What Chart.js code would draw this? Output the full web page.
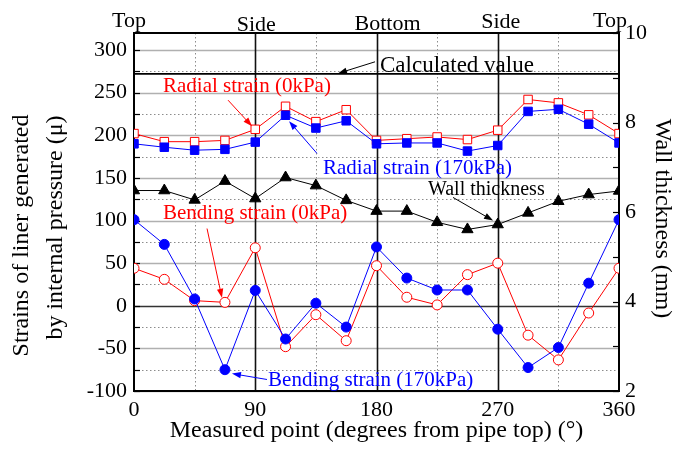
<!DOCTYPE html>
<html>
<head>
<meta charset="utf-8">
<script src="https://cdn.jsdelivr.net/npm/chart.js@4.4.0/dist/chart.umd.min.js"></script>
<style>
  html, body { margin: 0; padding: 0; background: #fff; }
  #wrap { width: 673px; height: 454px; }
</style>
</head>
<body>
<div id="wrap"><canvas id="chart" width="673" height="454"></canvas></div>
<script>
// Measuring positions around the pipe (degrees from the pipe top)
const angles = [0, 22.5, 45, 67.5, 90, 112.5, 135, 157.5, 180, 202.5, 225, 247.5, 270, 292.5, 315, 337.5, 360];

// Strains of the liner (μ)
const radial0    = [202, 192.5, 192.5, 194, 207, 234, 216, 230, 194, 196, 198, 195, 206, 242, 238, 224, 202];
const radial170  = [190, 186, 182.5, 183.5, 192, 223.5, 208.5, 217, 190, 191, 191, 181.5, 188, 228, 230.5, 213, 191];
const bending0   = [44, 31, 6, 4, 68, -48, -10.5, -41, 47, 10, 1, 36.5, 50, -34.5, -63.5, -8.5, 44];
const bending170 = [101, 72, 8, -75, 18, -39, 3, -25, 69, 32.5, 18.5, 18.5, -27.5, -72.5, -49, 26.5, 101];

// Wall thickness of the liner (mm)
const wallThickness = [6.48, 6.48, 6.27, 6.69, 6.30, 6.77, 6.59, 6.26, 6.02, 6.02, 5.77, 5.61, 5.72, 5.98, 6.24, 6.39, 6.47];

// Calculated radial strain (μ)
const calculatedValue = 272;

// Named positions on the pipe circumference
const positionAngles = [0, 90, 180, 270, 360];
const positionNames = ['Top', 'Side', 'Bottom', 'Side', 'Top'];

const SERIF = "'Liberation Serif', 'Times New Roman', serif";
const RED = '#ff0000';
const BLUE = '#0000ff';

const toPoints = vals => angles.map((a, i) => ({ x: a, y: vals[i] }));

// Callout labels with leader arrows, placed in data coordinates (x: degrees, y: left axis)
const callouts = [
  { text: 'Calculated value',        color: '#000', size: 23, at: [182.6, 274.5], from: [178.9, 286.2], to: [151.4, 272.6] },
  { text: 'Radial strain (0kPa)',    color: RED,    size: 21, at: [21.5, 251],    from: [69.8, 241.2],  to: [87.6, 210.6] },
  { text: 'Radial strain (170kPa)',  color: BLUE,   size: 21, at: [140.3, 154],   from: [135.8, 178.8], to: [115.1, 216.5] },
  { text: 'Wall thickness',          color: '#000', size: 20, at: [218.2, 129.4], from: [236.8, 127.1], to: [266.5, 100] },
  { text: 'Bending strain (0kPa)',   color: RED,    size: 21, at: [21.5, 102],    from: [54.2, 90.6],   to: [65.3, 9.4] },
  { text: 'Bending strain (170kPa)', color: BLUE,   size: 21, at: [99.5, -94],    from: [98.7, -86.5],  to: [72.7, -79.6] }
];

// Grid lines, frame and inward tick marks
const framePlugin = {
  id: 'framePlugin',
  beforeDatasetsDraw(chart) {
    const { ctx, chartArea: a, scales: { x, y, y2 } } = chart;
    ctx.save();
    const hLine = (v, color, w, dash) => {
      const py = Math.round(y.getPixelForValue(v)) + 0.5;
      ctx.beginPath(); ctx.setLineDash(dash); ctx.strokeStyle = color; ctx.lineWidth = w;
      ctx.moveTo(a.left, py); ctx.lineTo(a.right, py); ctx.stroke();
    };
    const vLine = (v, color, w, dash) => {
      const px = Math.round(x.getPixelForValue(v)) + 0.5;
      ctx.beginPath(); ctx.setLineDash(dash); ctx.strokeStyle = color; ctx.lineWidth = w;
      ctx.moveTo(px, a.top); ctx.lineTo(px, a.bottom); ctx.stroke();
    };
    // dotted minor grid
    y.ticks.forEach(t => { if (t.value % 50 !== 0) hLine(t.value, '#8c8c8c', 1, [1.5, 2.5]); });
    x.ticks.forEach(t => { if (t.value % 90 !== 0) vLine(t.value, '#8c8c8c', 1, [1.5, 2.5]); });
    // solid grey major grid
    y.ticks.forEach(t => { if (t.value % 50 === 0 && t.value !== 0) hLine(t.value, '#b0b0b0', 1.6, []); });
    // zero line and the quarter-circle verticals
    hLine(0, '#333', 1.6, []);
    x.ticks.forEach(t => { if (t.value % 90 === 0 && t.value > 0 && t.value < 360) vLine(t.value, '#111', 1.6, []); });

    // inward ticks
    ctx.setLineDash([]);
    ctx.strokeStyle = '#000';
    ctx.lineWidth = 1.2;
    y.ticks.forEach(t => {
      const py = Math.round(y.getPixelForValue(t.value)) + 0.5;
      ctx.beginPath(); ctx.moveTo(a.left, py); ctx.lineTo(a.left + 6, py); ctx.stroke();
    });
    y2.ticks.forEach(t => {
      const py = Math.round(y2.getPixelForValue(t.value)) + 0.5;
      ctx.beginPath(); ctx.moveTo(a.right, py); ctx.lineTo(a.right - 6, py); ctx.stroke();
    });

    // frame
    ctx.lineWidth = 2;
    ctx.strokeStyle = '#000';
    ctx.strokeRect(a.left, a.top, a.right - a.left, a.bottom - a.top);
    ctx.restore();
  }
};

// Callout texts with arrows
const calloutPlugin = {
  id: 'calloutPlugin',
  afterDatasetsDraw(chart) {
    const { ctx, scales: { x, y } } = chart;
    ctx.save();
    callouts.forEach(c => {
      const tx = x.getPixelForValue(c.at[0]), ty = y.getPixelForValue(c.at[1]);
      ctx.font = c.size + 'px ' + SERIF;
      ctx.fillStyle = c.color;
      ctx.textAlign = 'left';
      ctx.textBaseline = 'alphabetic';
      ctx.fillText(c.text, tx, ty);

      const x0 = x.getPixelForValue(c.from[0]), y0 = y.getPixelForValue(c.from[1]);
      const x1 = x.getPixelForValue(c.to[0]), y1 = y.getPixelForValue(c.to[1]);
      const ang = Math.atan2(y1 - y0, x1 - x0);
      const len = 9, half = 3.2;
      ctx.strokeStyle = c.color;
      ctx.lineWidth = 1;
      ctx.beginPath();
      ctx.moveTo(x0, y0);
      ctx.lineTo(x1 - Math.cos(ang) * len * 0.8, y1 - Math.sin(ang) * len * 0.8);
      ctx.stroke();
      ctx.beginPath();
      ctx.moveTo(x1, y1);
      ctx.lineTo(x1 - Math.cos(ang) * len - Math.sin(ang) * half, y1 - Math.sin(ang) * len + Math.cos(ang) * half);
      ctx.lineTo(x1 - Math.cos(ang) * len + Math.sin(ang) * half, y1 - Math.sin(ang) * len - Math.cos(ang) * half);
      ctx.closePath();
      ctx.fill();
    });
    ctx.restore();
  }
};

// Axis titles and the position names above the plot
const titlePlugin = {
  id: 'titlePlugin',
  afterDraw(chart) {
    const { ctx, chartArea: a, scales: { x } } = chart;
    ctx.save();
    ctx.fillStyle = '#000';
    ctx.textBaseline = 'alphabetic';
    ctx.textAlign = 'center';

    // position names
    ctx.font = '22px ' + SERIF;
    const nudge = [-5, 1, 11, 3, -9];
    const lift = [2.5, -1.5, -0.5, 1, 2];
    positionAngles.forEach((deg, i) => {
      ctx.fillText(positionNames[i], x.getPixelForValue(deg) + nudge[i], a.top - 4 - lift[i]);
    });

    // x title
    ctx.font = '24px ' + SERIF;
    ctx.fillText('Measured point (degrees from pipe top) (°)', (a.left + a.right) / 2, 437);

    // left title (two lines)
    ctx.save();
    ctx.translate(28, 235.5);
    ctx.rotate(-Math.PI / 2);
    ctx.fillText('Strains of liner generated', 0, 0);
    ctx.restore();
    ctx.save();
    ctx.translate(61.5, 227.5);
    ctx.rotate(-Math.PI / 2);
    ctx.fillText('by internal pressure (μ)', 0, 0);
    ctx.restore();

    // right title
    ctx.save();
    ctx.translate(656, 218.5);
    ctx.rotate(Math.PI / 2);
    ctx.fillText('Wall thickness (mm)', 0, 0);
    ctx.restore();

    ctx.restore();
  }
};

Chart.defaults.font.family = SERIF;
Chart.defaults.color = '#000';

new Chart(document.getElementById('chart'), {
  type: 'line',
  data: {
    datasets: [
      {
        label: 'Wall thickness', yAxisID: 'y2', data: toPoints(wallThickness),
        borderColor: '#000', backgroundColor: '#000', borderWidth: 1,
        pointStyle: 'triangle', pointRadius: 6.5, pointBorderWidth: 1, order: 0
      },
      {
        label: 'Radial strain (170kPa)', data: toPoints(radial170),
        borderColor: BLUE, backgroundColor: BLUE, borderWidth: 1,
        pointStyle: 'rect', pointRadius: 6, pointBorderWidth: 1, order: 1
      },
      {
        label: 'Radial strain (0kPa)', data: toPoints(radial0),
        borderColor: RED, backgroundColor: '#fff', borderWidth: 1,
        pointStyle: 'rect', pointRadius: 6, pointBorderWidth: 1, order: 2
      },
      {
        label: 'Bending strain (170kPa)', data: toPoints(bending170),
        borderColor: BLUE, backgroundColor: BLUE, borderWidth: 1,
        pointStyle: 'circle', pointRadius: 5, pointBorderWidth: 1, order: 3
      },
      {
        label: 'Bending strain (0kPa)', data: toPoints(bending0),
        borderColor: RED, backgroundColor: '#fff', borderWidth: 1,
        pointStyle: 'circle', pointRadius: 5, pointBorderWidth: 1, order: 4
      },
      {
        label: 'Calculated value',
        data: [{ x: 0, y: calculatedValue }, { x: 360, y: calculatedValue }],
        borderColor: '#000', borderWidth: 1.6, pointRadius: 0, order: 5
      }
    ]
  },
  options: {
    responsive: false,
    animation: false,
    events: [],
    layout: { padding: { top: 33, left: 0, right: 0, bottom: 0 } },
    plugins: { legend: { display: false }, tooltip: { enabled: false } },
    scales: {
      x: {
        type: 'linear', min: 0, max: 360,
        afterFit: s => { s.height = 63; },
        grid: { display: false, drawTicks: false },
        border: { display: false },
        ticks: {
          stepSize: 45, autoSkip: false, maxRotation: 0, padding: 6,
          font: { size: 22 }, color: '#000',
          callback: v => (v % 90 === 0 ? String(v) : '')
        }
      },
      y: {
        type: 'linear', position: 'left', min: -100, max: 320,
        afterFit: s => { s.width = 134; },
        grid: { display: false, drawTicks: false },
        border: { display: false },
        ticks: {
          stepSize: 25, includeBounds: false, autoSkip: false, padding: 7,
          font: { size: 22 }, color: '#000',
          callback: v => (v % 50 === 0 ? String(v) : '')
        }
      },
      y2: {
        type: 'linear', position: 'right', min: 2, max: 10,
        afterFit: s => { s.width = 54; },
        grid: { display: false, drawTicks: false },
        border: { display: false },
        ticks: {
          stepSize: 1, autoSkip: false, padding: 6,
          font: { size: 22 }, color: '#000',
          callback: v => (v % 2 === 0 ? String(v) : '')
        }
      }
    }
  },
  plugins: [framePlugin, calloutPlugin, titlePlugin]
});
</script>
</body>
</html>
